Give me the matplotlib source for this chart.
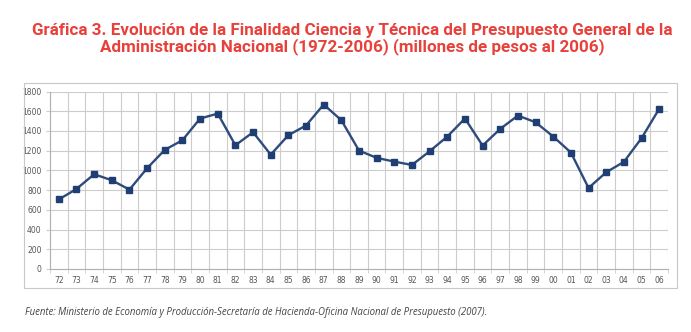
import matplotlib.pyplot as plt
from matplotlib.patches import Rectangle

# Presupuesto en Ciencia y Técnica, millones de pesos de 2006
years = ['72', '73', '74', '75', '76', '77', '78', '79', '80', '81', '82', '83',
         '84', '85', '86', '87', '88', '89', '90', '91', '92', '93', '94', '95',
         '96', '97', '98', '99', '00', '01', '02', '03', '04', '05', '06']
values = [705, 812, 961, 900, 805, 1022, 1208, 1306, 1526, 1576, 1255, 1387,
          1160, 1357, 1455, 1668, 1509, 1201, 1127, 1089, 1055, 1194, 1343, 1526,
          1252, 1421, 1556, 1488, 1343, 1181, 822, 981, 1086, 1326, 1624]
y_ticks = [0, 200, 400, 600, 800, 1000, 1200, 1400, 1600, 1800]

title = ('Gráfica 3. Evolución de la Finalidad Ciencia y Técnica del Presupuesto General de la\n'
         'Administración Nacional (1972-2006) (millones de pesos al 2006)')
source = ('Fuente: Ministerio de Economía y Producción-Secretaría de Hacienda-'
          'Oficina Nacional de Presupuesto (2007).')

W, H = 691, 332
fig = plt.figure(figsize=(W / 100, H / 100), dpi=100)

# outer chart frame
fig.patches.append(Rectangle((24 / W, 1 - 288 / H), (677 - 24) / W, (288 - 83) / H,
                             transform=fig.transFigure, fill=False,
                             edgecolor='#c8c8c8', linewidth=0.8))

ax = fig.add_axes([50 / W, 1 - 269 / H, (668 - 50) / W, (269 - 91.5) / H])
x = list(range(len(years)))
ax.plot(x, values, color='#2f4b7c', linewidth=1.7, marker='s', markersize=5,
        markerfacecolor='#1f3f74', markeredgecolor='#1f3f74', zorder=3)

ax.set_xlim(-0.5, len(years) - 0.5)
ax.set_ylim(0, 1800)
ax.set_yticks(y_ticks)
ax.set_yticklabels([str(v) for v in y_ticks])
ax.set_xticks(x)
ax.set_xticklabels(years)
ax.set_xticks([i + 0.5 for i in range(-1, len(years))], minor=True)

ax.grid(axis='y', which='major', color='#cccccc', linewidth=0.8)
ax.grid(axis='x', which='minor', color='#cccccc', linewidth=0.8)
ax.tick_params(axis='x', which='major', length=0, labelsize=5.5, colors='#555555', pad=5)
ax.tick_params(axis='x', which='minor', length=3, color='#cccccc')
ax.tick_params(axis='y', length=3, color='#cccccc', labelsize=5.5, colors='#555555', pad=3)
for side in ['top', 'right']:
    ax.spines[side].set_visible(False)
for side in ['left', 'bottom']:
    ax.spines[side].set_color('#b0b0b0')
    ax.spines[side].set_linewidth(0.8)

fig.text(352 / W, 1 - 39 / H, title, ha='center', va='center', color='#e8413c',
         fontsize=12.25, fontweight='bold', family='Roboto', linespacing=1.05)
fig.text(25 / W, 1 - 312 / H, source, ha='left', va='center', color='#444444',
         fontsize=6.9, style='italic', family='Open Sans')

fig.savefig('out.png', dpi=100)
